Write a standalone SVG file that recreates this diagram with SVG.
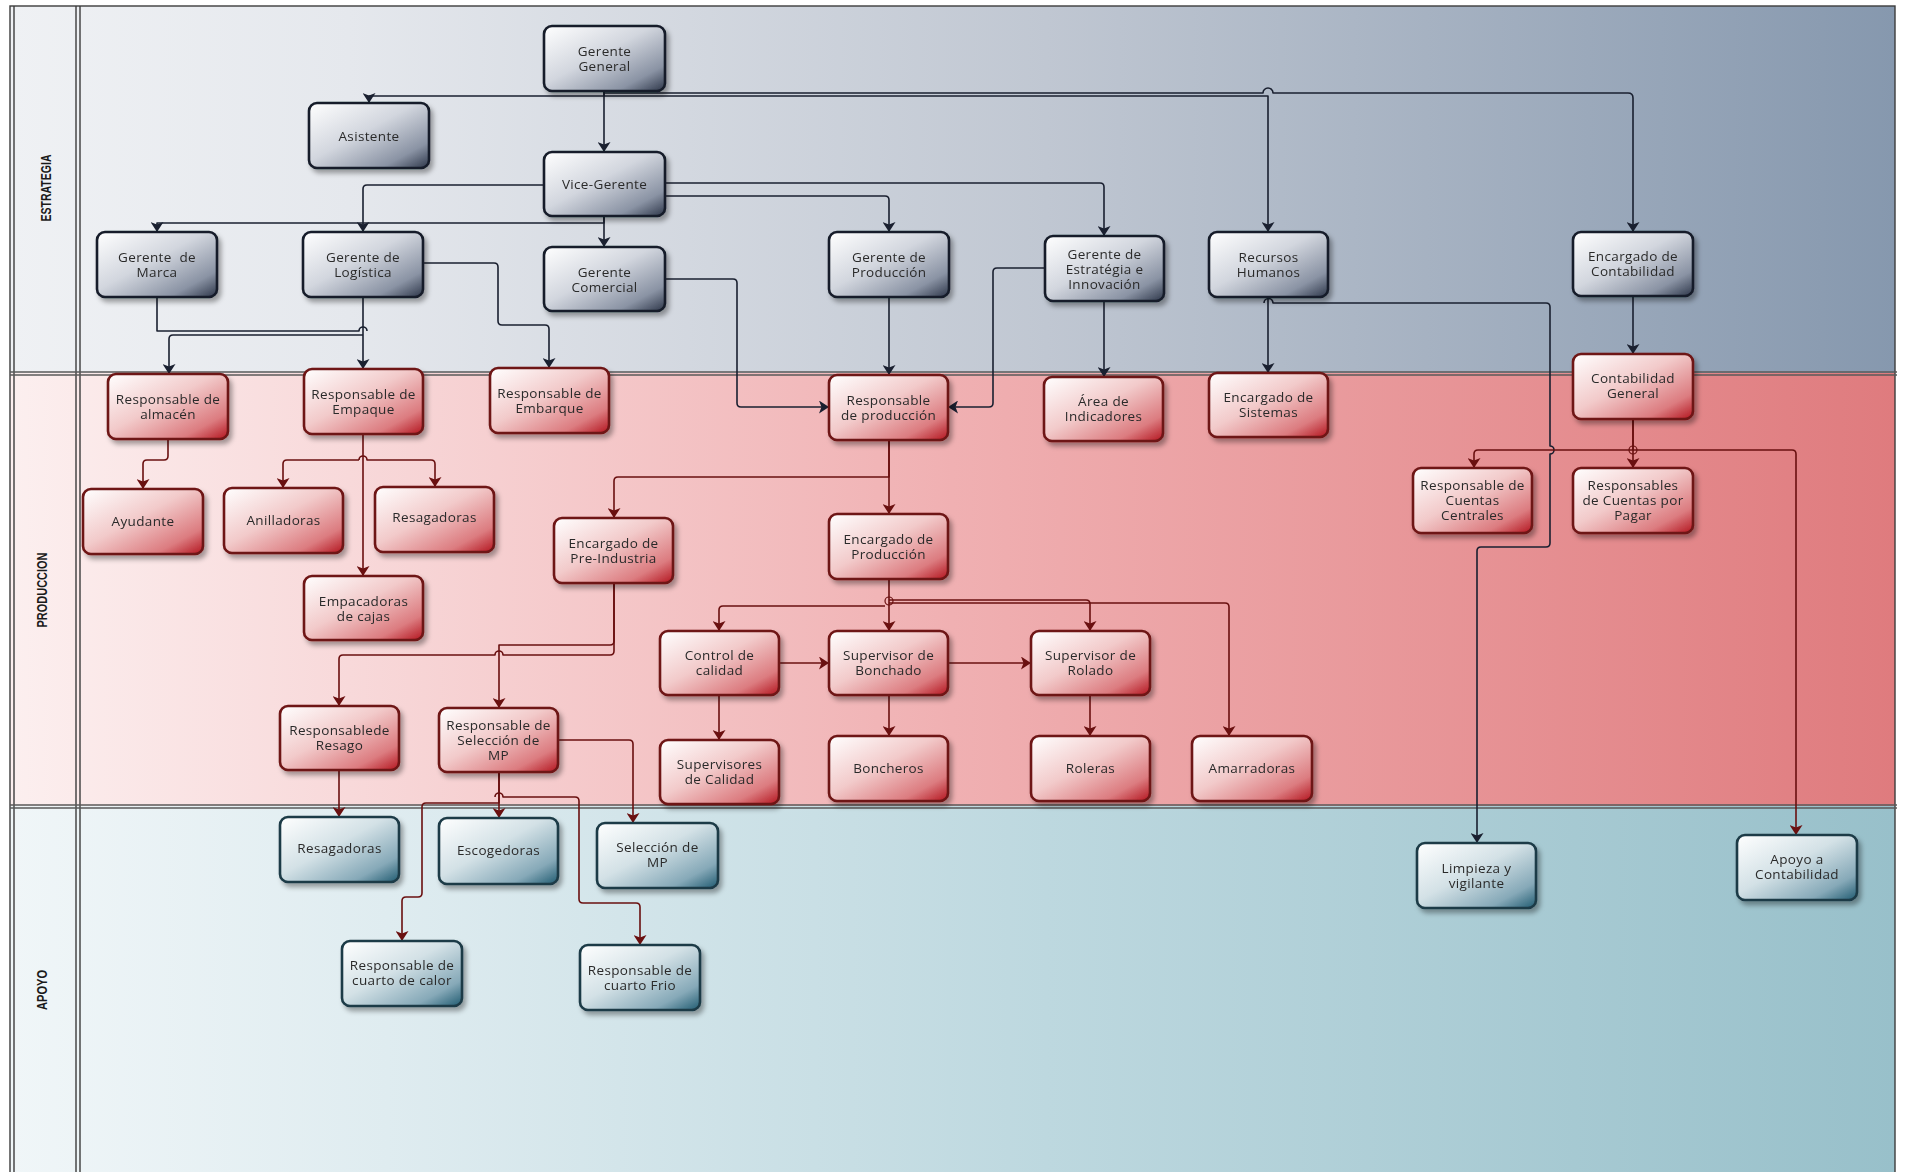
<svg xmlns="http://www.w3.org/2000/svg" width="1905" height="1172" viewBox="0 0 1905 1172">
  <style>
    .lane-line { stroke: #3c3c3c; stroke-width: 1.4; fill: none; }
    .lane-sep { stroke: #5a5a5a; stroke-width: 1.4; fill: none; }
    .lane-label { font-family: "Liberation Sans", Arial, sans-serif; font-weight: bold; font-size: 15px; fill: #1a1a1a; }
    .box { stroke-width: 2.6; }
    .s .box { fill: url(#gS); stroke: #161c29; }
    .p .box { fill: url(#gP); stroke: #6e1414; }
    .a .box { fill: url(#gA); stroke: #1c3a46; }
    .node { filter: url(#shadow); }
    .t { font-family: "Open Sans", "Noto Sans", "Liberation Sans", sans-serif; font-size: 13.5px; letter-spacing: 0.35px; fill: #2a2a2a; text-anchor: middle; }
    .cn { fill: none; stroke: #1a2030; stroke-width: 1.6; stroke-linejoin: round; marker-end: url(#arrN); }
    .cr { fill: none; stroke: #6a1010; stroke-width: 1.6; stroke-linejoin: round; marker-end: url(#arrR); }
    .nm { marker-end: none; }
  </style>
  <defs>
    <linearGradient id="laneS" x1="0" y1="0" x2="1" y2="0">
      <stop offset="0" stop-color="#eff1f4"/>
      <stop offset="0.18" stop-color="#e5e8ed"/>
      <stop offset="0.55" stop-color="#c0c7d2"/>
      <stop offset="1" stop-color="#8698ae"/>
    </linearGradient>
    <linearGradient id="laneP" x1="0" y1="0" x2="1" y2="0">
      <stop offset="0" stop-color="#fcefef"/>
      <stop offset="0.18" stop-color="#f8d9da"/>
      <stop offset="0.5" stop-color="#f0b0b2"/>
      <stop offset="1" stop-color="#df7b7e"/>
    </linearGradient>
    <linearGradient id="laneA" x1="0" y1="0" x2="1" y2="0">
      <stop offset="0" stop-color="#f0f6f8"/>
      <stop offset="0.2" stop-color="#dfecf0"/>
      <stop offset="0.55" stop-color="#bdd8df"/>
      <stop offset="1" stop-color="#98c0ca"/>
    </linearGradient>
    <linearGradient id="gS" x1="0" y1="0" x2="1" y2="1">
      <stop offset="0" stop-color="#ffffff"/>
      <stop offset="0.45" stop-color="#d2d6de"/>
      <stop offset="0.8" stop-color="#8a93a4"/>
      <stop offset="1" stop-color="#2c3548"/>
    </linearGradient>
    <linearGradient id="gP" x1="0" y1="0" x2="1" y2="1">
      <stop offset="0" stop-color="#ffffff"/>
      <stop offset="0.45" stop-color="#f2caca"/>
      <stop offset="0.8" stop-color="#dc7c80"/>
      <stop offset="1" stop-color="#b3141e"/>
    </linearGradient>
    <linearGradient id="gA" x1="0" y1="0" x2="1" y2="1">
      <stop offset="0" stop-color="#ffffff"/>
      <stop offset="0.45" stop-color="#d3e1e6"/>
      <stop offset="0.8" stop-color="#86a9b8"/>
      <stop offset="1" stop-color="#1f5a70"/>
    </linearGradient>
    <filter id="shadow" x="-10%" y="-10%" width="130%" height="140%">
      <feDropShadow dx="3" dy="4" stdDeviation="2.5" flood-color="#000" flood-opacity="0.35"/>
    </filter>
    <marker id="arrN" markerUnits="userSpaceOnUse" markerWidth="11" markerHeight="13" refX="10" refY="6.5" orient="auto">
      <path d="M0,0 L10,6.5 L0,13 L2.5,6.5 Z" fill="#1a2030"/>
    </marker>
    <marker id="arrR" markerUnits="userSpaceOnUse" markerWidth="11" markerHeight="13" refX="10" refY="6.5" orient="auto">
      <path d="M0,0 L10,6.5 L0,13 L2.5,6.5 Z" fill="#6a1010"/>
    </marker>
  </defs>

  <!-- swim lanes -->
  <g id="lanes">
    <rect x="10" y="6" width="1885" height="367" fill="url(#laneS)"/>
    <rect x="10" y="373" width="1885" height="433" fill="url(#laneP)"/>
    <rect x="10" y="806" width="1885" height="366" fill="url(#laneA)"/>
    <rect x="10" y="6" width="1885" height="1170" class="lane-line"/>
    <line x1="14" y1="6" x2="14" y2="1172" class="lane-line"/>
    <line x1="76" y1="6" x2="76" y2="1172" class="lane-line"/>
    <line x1="80" y1="6" x2="80" y2="1172" class="lane-line"/>
    <line x1="10" y1="372" x2="1897" y2="372" class="lane-sep"/>
    <line x1="10" y1="375" x2="1897" y2="375" class="lane-sep"/>
    <line x1="10" y1="805" x2="1897" y2="805" class="lane-sep"/>
    <line x1="10" y1="808" x2="1897" y2="808" class="lane-sep"/>
    <text class="lane-label" transform="translate(51,188) rotate(-90)" text-anchor="middle" textLength="67" lengthAdjust="spacingAndGlyphs">ESTRATEGIA</text>
    <text class="lane-label" transform="translate(47,590) rotate(-90)" text-anchor="middle" textLength="75" lengthAdjust="spacingAndGlyphs">PRODUCCION</text>
    <text class="lane-label" transform="translate(47,990) rotate(-90)" text-anchor="middle" textLength="40" lengthAdjust="spacingAndGlyphs">APOYO</text>
  </g>

  <!-- connectors -->
  <g id="connectors">
    <!-- strategy level -->
    <path class="cn" d="M604,91 V96 H369 V103"/>
    <path class="cn" d="M604,91 V152"/>
    <path class="cn" d="M604,96 H1268 V232"/>
    <path class="cn" d="M604,93 H1263 a5,5 0 0 1 10,0 H1628 q5,0 5,5 V232"/>
    <path class="cn" d="M544,185 H367 q-4,0 -4,4 V232"/>
    <path class="cn" d="M604,216 V223 H157 V232"/>
    <path class="cn" d="M604,216 V247"/>
    <path class="cn" d="M665,196 H885 q4,0 4,4 V232"/>
    <path class="cn" d="M665,183 H1100 q4,0 4,4 V236"/>
    <path class="cn nm" d="M157,297 V331 H359 a4,4 0 0 1 8,0"/>
    <path class="cn" d="M363,297 V369"/>
    <path class="cn" d="M363,335 H173 q-4,0 -4,4 V374"/>
    <path class="cn" d="M423,263 H494 q4,0 4,4 V321 q0,4 4,4 H545 q4,0 4,4 V368"/>
    <path class="cn" d="M665,279 H733 q4,0 4,4 V403 q0,4 4,4 H829"/>
    <path class="cn" d="M1045,268 H997 q-4,0 -4,4 V403 q0,4 -4,4 H948"/>
    <path class="cn" d="M889,297 V375"/>
    <path class="cn" d="M1104,301 V377"/>
    <path class="cn" d="M1268,297 V373"/>
    <path class="cn" d="M1264,303 a4.5,4.5 0 0 1 9,0 H1546 q4,0 4,4 V446 a4,4 0 0 1 0,8 V543 q0,4 -4,4 H1481 q-4,0 -4,4 V843"/>
    <path class="cn" d="M1633,296 V354"/>

    <!-- production level -->
    <path class="cr" d="M168,439 V456 q0,4 -4,4 H147 q-4,0 -4,4 V489"/>
    <path class="cr" d="M363,434 V576"/>
    <path class="cr" d="M359,460 H287 q-4,0 -4,4 V488"/>
    <path class="cr" d="M359,460 a4,4 0 0 1 8,0 H431 q4,0 4,4 V487"/>
    <path class="cr" d="M889,440 V477 H618 q-4,0 -4,4 V518"/>
    <path class="cr" d="M889,440 V514"/>
    <path class="cr" d="M614,583 V641 q0,4 -4,4 H499 V708"/>
    <path class="cr" d="M614,583 V651 q0,4 -4,4 H503 a4,4 0 0 0 -8,0 H343 q-4,0 -4,4 V706"/>
    <path class="cr" d="M889,579 V631"/>
    <path class="cr" d="M885,606 H723 q-4,0 -4,4 V631"/>
    <path class="cr" d="M889,600 H1086 q4,0 4,4 V631"/>
    <path class="cr" d="M889,603 H1225 q4,0 4,4 V736"/>
    <circle cx="889" cy="601" r="4" fill="none" stroke="#6a1010" stroke-width="1.2"/>
    <path class="cr" d="M779,663 H829"/>
    <path class="cr" d="M948,663 H1031"/>
    <path class="cr" d="M719,695 V740"/>
    <path class="cr" d="M889,695 V736"/>
    <path class="cr" d="M1090,695 V736"/>
    <path class="cr" d="M1633,419 V450 H1478 q-4,0 -4,4 V468"/>
    <path class="cr" d="M1633,419 V468"/>
    <path class="cr" d="M1633,450 H1792 q4,0 4,4 V835"/>
    <circle cx="1633" cy="450" r="4" fill="none" stroke="#6a1010" stroke-width="1.2"/>

    <!-- support level -->
    <path class="cr" d="M339,770 V817"/>
    <path class="cr" d="M499,772 V818"/>
    <path class="cr" d="M558,740 H629 q4,0 4,4 V823"/>
    <path class="cr" d="M499,772 V803 H426 q-4,0 -4,4 V893 q0,4 -4,4 H406 q-4,0 -4,4 V941"/>
    <path class="cr" d="M495,797 a4,4 0 0 1 8,0 H575 q4,0 4,4 V899 q0,4 4,4 H636 q4,0 4,4 V945"/>
  </g>

  <!-- strategy nodes -->
  <g id="gerente-general" class="node s"><rect class="box" x="544" y="26" width="121" height="65" rx="8"/><text class="t"><tspan x="604.5" y="56">Gerente</tspan><tspan x="604.5" y="71">General</tspan></text></g>
  <g id="asistente" class="node s"><rect class="box" x="309" y="103" width="120" height="65" rx="8"/><text class="t" x="369" y="140.5">Asistente</text></g>
  <g id="vice-gerente" class="node s"><rect class="box" x="544" y="152" width="121" height="64" rx="8"/><text class="t" x="604.5" y="189">Vice-Gerente</text></g>
  <g id="gerente-marca" class="node s"><rect class="box" x="97" y="232" width="120" height="65" rx="8"/><text class="t" xml:space="preserve"><tspan x="157" y="262">Gerente  de</tspan><tspan x="157" y="277">Marca</tspan></text></g>
  <g id="gerente-logistica" class="node s"><rect class="box" x="303" y="232" width="120" height="65" rx="8"/><text class="t"><tspan x="363" y="262">Gerente de</tspan><tspan x="363" y="277">Logística</tspan></text></g>
  <g id="gerente-comercial" class="node s"><rect class="box" x="544" y="247" width="121" height="64" rx="8"/><text class="t"><tspan x="604.5" y="277">Gerente</tspan><tspan x="604.5" y="292">Comercial</tspan></text></g>
  <g id="gerente-produccion" class="node s"><rect class="box" x="829" y="232" width="120" height="65" rx="8"/><text class="t"><tspan x="889" y="262">Gerente de</tspan><tspan x="889" y="277">Producción</tspan></text></g>
  <g id="gerente-estrategia" class="node s"><rect class="box" x="1045" y="236" width="119" height="65" rx="8"/><text class="t"><tspan x="1104.5" y="258.5">Gerente de</tspan><tspan x="1104.5" y="273.5">Estratégia e</tspan><tspan x="1104.5" y="288.5">Innovación</tspan></text></g>
  <g id="recursos-humanos" class="node s"><rect class="box" x="1209" y="232" width="119" height="65" rx="8"/><text class="t"><tspan x="1268.5" y="262">Recursos</tspan><tspan x="1268.5" y="277">Humanos</tspan></text></g>
  <g id="encargado-contabilidad" class="node s"><rect class="box" x="1573" y="232" width="120" height="64" rx="8"/><text class="t"><tspan x="1633" y="261">Encargado de</tspan><tspan x="1633" y="276">Contabilidad</tspan></text></g>

  <!-- production nodes -->
  <g id="responsable-almacen" class="node p"><rect class="box" x="108" y="374" width="120" height="65" rx="8"/><text class="t"><tspan x="168" y="404">Responsable de</tspan><tspan x="168" y="419">almacén</tspan></text></g>
  <g id="responsable-empaque" class="node p"><rect class="box" x="304" y="369" width="119" height="65" rx="8"/><text class="t"><tspan x="363.5" y="399">Responsable de</tspan><tspan x="363.5" y="414">Empaque</tspan></text></g>
  <g id="responsable-embarque" class="node p"><rect class="box" x="490" y="368" width="119" height="65" rx="8"/><text class="t"><tspan x="549.5" y="398">Responsable de</tspan><tspan x="549.5" y="413">Embarque</tspan></text></g>
  <g id="ayudante" class="node p"><rect class="box" x="83" y="489" width="120" height="65" rx="8"/><text class="t" x="143" y="526">Ayudante</text></g>
  <g id="anilladoras" class="node p"><rect class="box" x="224" y="488" width="119" height="65" rx="8"/><text class="t" x="283.5" y="525">Anilladoras</text></g>
  <g id="resagadoras-produccion" class="node p"><rect class="box" x="375" y="487" width="119" height="65" rx="8"/><text class="t" x="434.5" y="522">Resagadoras</text></g>
  <g id="empacadoras-cajas" class="node p"><rect class="box" x="304" y="576" width="119" height="64" rx="8"/><text class="t"><tspan x="363.5" y="606">Empacadoras</tspan><tspan x="363.5" y="621">de cajas</tspan></text></g>
  <g id="encargado-preindustria" class="node p"><rect class="box" x="554" y="518" width="119" height="65" rx="8"/><text class="t"><tspan x="613.5" y="548">Encargado de</tspan><tspan x="613.5" y="563">Pre-Industria</tspan></text></g>
  <g id="responsable-resago" class="node p"><rect class="box" x="280" y="706" width="119" height="64" rx="8"/><text class="t"><tspan x="339.5" y="735">Responsablede</tspan><tspan x="339.5" y="750">Resago</tspan></text></g>
  <g id="responsable-seleccion" class="node p"><rect class="box" x="439" y="708" width="119" height="64" rx="8"/><text class="t"><tspan x="498.5" y="730">Responsable de</tspan><tspan x="498.5" y="745">Selección de</tspan><tspan x="498.5" y="760">MP</tspan></text></g>
  <g id="responsable-produccion" class="node p"><rect class="box" x="829" y="375" width="119" height="65" rx="8"/><text class="t"><tspan x="888.5" y="405">Responsable</tspan><tspan x="888.5" y="420">de producción</tspan></text></g>
  <g id="area-indicadores" class="node p"><rect class="box" x="1044" y="377" width="119" height="64" rx="8"/><text class="t"><tspan x="1103.5" y="406">Área de</tspan><tspan x="1103.5" y="421">Indicadores</tspan></text></g>
  <g id="encargado-sistemas" class="node p"><rect class="box" x="1209" y="373" width="119" height="64" rx="8"/><text class="t"><tspan x="1268.5" y="402">Encargado de</tspan><tspan x="1268.5" y="417">Sistemas</tspan></text></g>
  <g id="encargado-produccion" class="node p"><rect class="box" x="829" y="514" width="119" height="65" rx="8"/><text class="t"><tspan x="888.5" y="544">Encargado de</tspan><tspan x="888.5" y="559">Producción</tspan></text></g>
  <g id="control-calidad" class="node p"><rect class="box" x="660" y="631" width="119" height="64" rx="8"/><text class="t"><tspan x="719.5" y="660">Control de</tspan><tspan x="719.5" y="675">calidad</tspan></text></g>
  <g id="supervisor-bonchado" class="node p"><rect class="box" x="829" y="631" width="119" height="64" rx="8"/><text class="t"><tspan x="888.5" y="660">Supervisor de</tspan><tspan x="888.5" y="675">Bonchado</tspan></text></g>
  <g id="supervisor-rolado" class="node p"><rect class="box" x="1031" y="631" width="119" height="64" rx="8"/><text class="t"><tspan x="1090.5" y="660">Supervisor de</tspan><tspan x="1090.5" y="675">Rolado</tspan></text></g>
  <g id="supervisores-calidad" class="node p"><rect class="box" x="660" y="740" width="119" height="64" rx="8"/><text class="t"><tspan x="719.5" y="769">Supervisores</tspan><tspan x="719.5" y="784">de Calidad</tspan></text></g>
  <g id="boncheros" class="node p"><rect class="box" x="829" y="736" width="119" height="65" rx="8"/><text class="t" x="888.5" y="773">Boncheros</text></g>
  <g id="roleras" class="node p"><rect class="box" x="1031" y="736" width="119" height="65" rx="8"/><text class="t" x="1090.5" y="773">Roleras</text></g>
  <g id="amarradoras" class="node p"><rect class="box" x="1192" y="736" width="120" height="65" rx="8"/><text class="t" x="1252" y="773">Amarradoras</text></g>
  <g id="contabilidad-general" class="node p"><rect class="box" x="1573" y="354" width="120" height="65" rx="8"/><text class="t"><tspan x="1633" y="383">Contabilidad</tspan><tspan x="1633" y="398">General</tspan></text></g>
  <g id="cuentas-centrales" class="node p"><rect class="box" x="1413" y="468" width="119" height="65" rx="8"/><text class="t"><tspan x="1472.5" y="490">Responsable de</tspan><tspan x="1472.5" y="505">Cuentas</tspan><tspan x="1472.5" y="520">Centrales</tspan></text></g>
  <g id="cuentas-por-pagar" class="node p"><rect class="box" x="1573" y="468" width="120" height="65" rx="8"/><text class="t"><tspan x="1633" y="490">Responsables</tspan><tspan x="1633" y="505">de Cuentas por</tspan><tspan x="1633" y="520">Pagar</tspan></text></g>

  <!-- support nodes -->
  <g id="resagadoras-apoyo" class="node a"><rect class="box" x="280" y="817" width="119" height="65" rx="8"/><text class="t" x="339.5" y="853">Resagadoras</text></g>
  <g id="escogedoras" class="node a"><rect class="box" x="439" y="818" width="119" height="66" rx="8"/><text class="t" x="498.5" y="855">Escogedoras</text></g>
  <g id="seleccion-mp" class="node a"><rect class="box" x="597" y="823" width="121" height="65" rx="8"/><text class="t"><tspan x="657.5" y="852">Selección de</tspan><tspan x="657.5" y="867">MP</tspan></text></g>
  <g id="cuarto-calor" class="node a"><rect class="box" x="342" y="941" width="120" height="65" rx="8"/><text class="t"><tspan x="402" y="970">Responsable de</tspan><tspan x="402" y="985">cuarto de calor</tspan></text></g>
  <g id="cuarto-frio" class="node a"><rect class="box" x="580" y="945" width="120" height="65" rx="8"/><text class="t"><tspan x="640" y="975">Responsable de</tspan><tspan x="640" y="990">cuarto Frio</tspan></text></g>
  <g id="limpieza-vigilante" class="node a"><rect class="box" x="1417" y="843" width="119" height="65" rx="8"/><text class="t"><tspan x="1476.5" y="873">Limpieza y</tspan><tspan x="1476.5" y="888">vigilante</tspan></text></g>
  <g id="apoyo-contabilidad" class="node a"><rect class="box" x="1737" y="835" width="120" height="65" rx="8"/><text class="t"><tspan x="1797" y="864">Apoyo a</tspan><tspan x="1797" y="879">Contabilidad</tspan></text></g>
</svg>
